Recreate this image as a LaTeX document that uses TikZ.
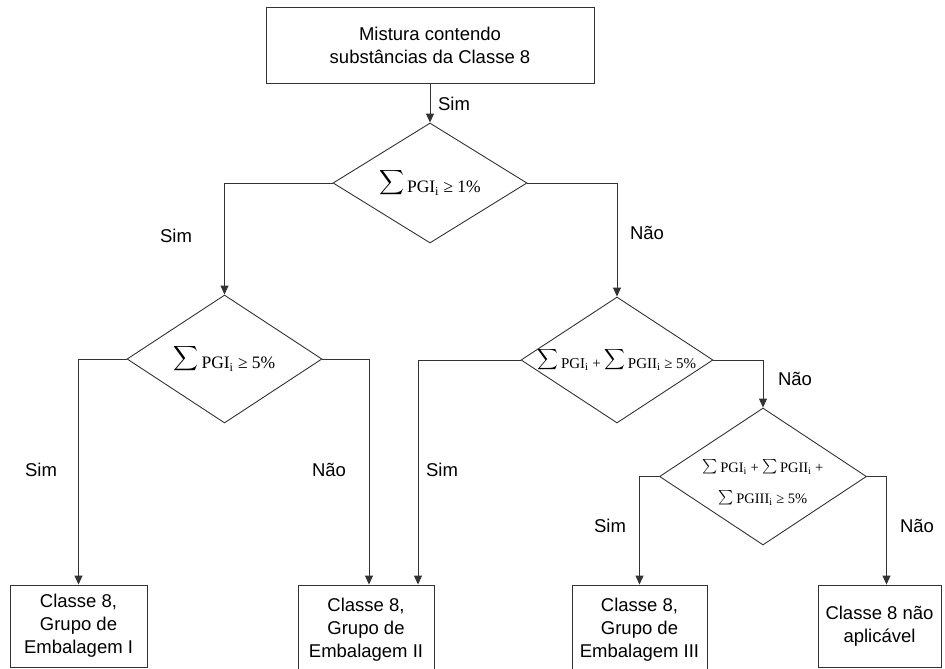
\documentclass[tikz,border=0pt]{standalone}
\usepackage{amsmath}
\usepackage{fontspec}
\setmainfont{Liberation Sans}
\newfontfamily\tnr{Liberation Serif}
\usetikzlibrary{shapes.geometric,arrows.meta}

\newcommand{\somapg}[1]{\raisebox{0.3em}{$\displaystyle\sum$}\,#1\textsubscript{i}}
\newcommand{\somapq}[1]{\raisebox{0.15em}{$\textstyle\sum$}\,#1\textsubscript{i}}

\begin{document}
\begin{tikzpicture}[x=1pt, y=-1pt,
        box/.style={draw=black!80, line width=0.9pt, align=center, inner sep=0pt,
            font=\fontsize{18.5}{23}\selectfont},
        decision/.style={draw=black!80, line width=0.9pt, diamond, inner sep=0pt},
        formula/.style={font=\tnr\fontsize{17.5}{22}\selectfont, align=center},
        lbl/.style={font=\fontsize{18.5}{23}\selectfont, inner sep=0pt},
        arr/.style={-{Triangle[width=8pt,length=9pt]}, draw=black!80, line width=0.9pt}]
        \useasboundingbox (0,0) rectangle (945,669);

        % start
        \node[box, minimum width=328pt, minimum height=76pt] (start) at (430,45)
            {Mistura contendo\\substâncias da Classe 8};

        % decisions
        \node[decision, minimum width=194pt, minimum height=120pt,
            label={[formula]center:{\somapg{PGI} ≥ 1\%}}] (d1) at (430,183) {};
        \node[decision, minimum width=195pt, minimum height=128pt,
            label={[formula]center:{\somapg{PGI} ≥ 5\%}}] (d2) at (224.5,359) {};
        \node[decision, minimum width=192pt, minimum height=126pt,
            label={[formula, font=\tnr\fontsize{15}{20}\selectfont]center:{\somapg{PGI} + \somapg{PGII} ≥ 5\%}}] (d3) at (617,360) {};
        \node[decision, minimum width=207pt, minimum height=137pt,
            label={[formula, font=\tnr\fontsize{14.5}{31}\selectfont, yshift=-6pt]center:{\somapq{PGI} + \somapq{PGII} +\\\somapq{PGIII} ≥ 5\%}}] (d4) at (763,476.5) {};

        % results
        \node[box, minimum width=137pt, minimum height=82pt] (g1) at (78.5,626)
            {Classe 8,\\Grupo de\\Embalagem I};
        \node[box, minimum width=136pt, minimum height=90pt] (g2) at (366,630)
            {Classe 8,\\Grupo de\\Embalagem II};
        \node[box, minimum width=135pt, minimum height=90pt] (g3) at (639.5,630)
            {Classe 8,\\Grupo de\\Embalagem III};
        \node[box, minimum width=123pt, minimum height=82pt] (na) at (879.5,626)
            {Classe 8 não\\aplicável};

        % connectors
        \draw[arr] (start.south) -- (d1.north);
        \draw[arr] (d1.west) -| (d2.north);
        \draw[arr] (d1.east) -| (d3.north);
        \draw[arr] (d2.west) -| (g1.north);
        \draw[arr] (d2.east) -| ([xshift=3pt]g2.north);
        \draw[arr] (d3.west) -| ([xshift=52pt]g2.north);
        \draw[arr] (d3.east) -| (d4.north);
        \draw[arr] (d4.west) -| (g3.north);
        \draw[arr] (d4.east) -| ([xshift=7pt]na.north);

        % answers
        \node[lbl] (s1) at (454,104) {Sim};
        \node[lbl] (s2) at (176,236) {Sim};
        \node[lbl] (n2) at (647,233) {Não};
        \node[lbl] (s3) at (41,470) {Sim};
        \node[lbl] (n3) at (329,470) {Não};
        \node[lbl] (s4) at (442,470) {Sim};
        \node[lbl] (n4) at (795,379) {Não};
        \node[lbl] (s5) at (610,526) {Sim};
        \node[lbl] (n5) at (917,526) {Não};
    \end{tikzpicture}
\end{document}
